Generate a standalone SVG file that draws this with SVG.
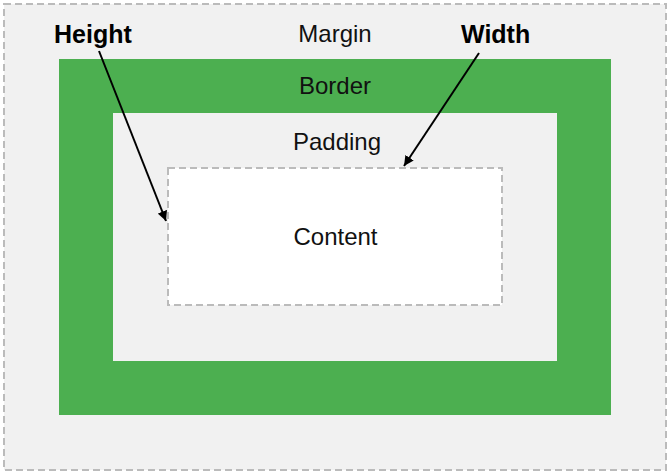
<svg xmlns="http://www.w3.org/2000/svg" width="671" height="474" viewBox="0 0 671 474">
<style>
.lbl{font-family:"Liberation Sans",Arial,sans-serif;font-size:24px;fill:#111;text-anchor:middle}
.bold{font-family:"Liberation Sans",Arial,sans-serif;font-size:25px;font-weight:bold;fill:#000}
.dash{stroke:#bbb;stroke-width:2;stroke-dasharray:7 4}
.conn{stroke:#000;stroke-width:2;fill:none}
</style>
<defs>
<marker id="ah" viewBox="0 0 10 10" refX="10" refY="5" markerWidth="5" markerHeight="5" orient="auto" markerUnits="strokeWidth">
<path d="M0,0 L10,5 L0,10 z" fill="#000"/>
</marker>
</defs>
<rect width="671" height="474" fill="#fff"/>
<g id="margin">
<rect x="4" y="4" width="662" height="466" fill="#f1f1f1" class="dash"/>
<text class="lbl" x="335" y="42">Margin</text>
</g>
<g id="border">
<rect x="59" y="59" width="552" height="356" fill="#4caf50"/>
<text class="lbl" x="335" y="94">Border</text>
</g>
<g id="padding">
<rect x="113" y="113" width="444" height="248" fill="#f1f1f1"/>
<text class="lbl" x="337" y="150">Padding</text>
</g>
<g id="content">
<rect x="168" y="168" width="334" height="137" fill="#fff" class="dash"/>
<text class="lbl" x="335.5" y="245">Content</text>
</g>
<g id="height-label">
<text class="bold" x="54" y="43">Height</text>
</g>
<g id="width-label">
<text class="bold" x="461" y="43">Width</text>
</g>
<g id="connectors">
<line class="conn" x1="99" y1="51" x2="166" y2="221" marker-end="url(#ah)"/>
<line class="conn" x1="479" y1="53" x2="404" y2="166" marker-end="url(#ah)"/>
</g>
</svg>
